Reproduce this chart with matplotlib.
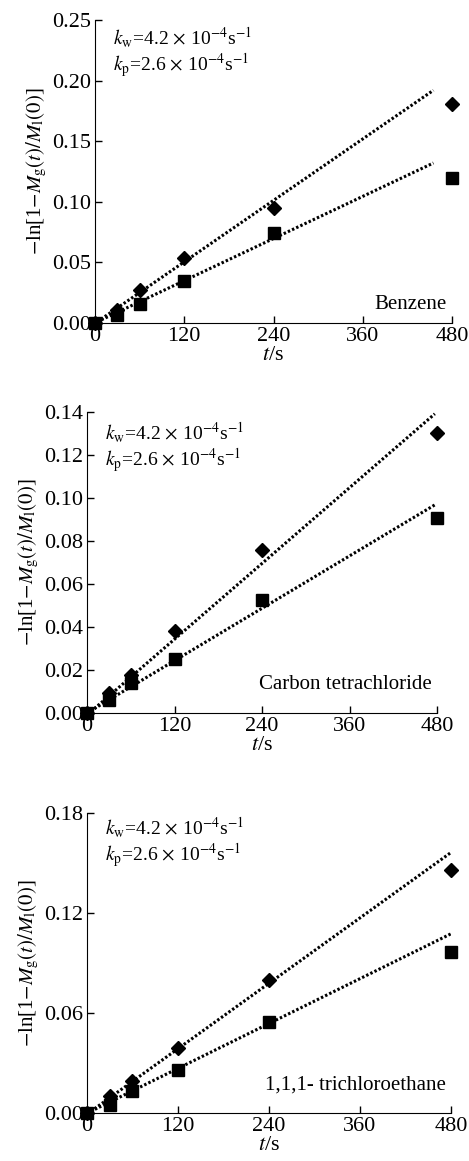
import matplotlib
matplotlib.use("Agg")
import matplotlib.pyplot as plt

plt.rcParams['font.family'] = ['Liberation Serif', 'DejaVu Serif']
plt.rcParams['mathtext.fontset'] = 'stix'

# sampling times (s)
t = [0, 30, 60, 120, 240, 480]

# Benzene
benz_w = [0.0, 0.011, 0.027, 0.054, 0.095, 0.181]
benz_p = [0.0, 0.007, 0.016, 0.035, 0.074, 0.120]
# Carbon tetrachloride
ccl4_w = [0.0, 0.0093, 0.0178, 0.038, 0.0758, 0.130]
ccl4_p = [0.0, 0.006, 0.0139, 0.025, 0.0526, 0.0905]
# 1,1,1-trichloroethane
tca_w = [0.0, 0.0104, 0.019, 0.039, 0.080, 0.1456]
tca_p = [0.0, 0.005, 0.013, 0.026, 0.0546, 0.0964]

# fitted lines, start/end points
benz_fit_t = [3, 455]
benz_fit_w = [0.001, 0.192]
benz_fit_p = [0.001, 0.132]
ccl4_fit_t = [10, 477]
ccl4_fit_w = [0.002, 0.139]
ccl4_fit_p = [0.002, 0.0967]
tca_fit_t = [5, 482]
tca_fit_w = [0.001, 0.157]
tca_fit_p = [0.001, 0.108]

names = ["Benzene", "Carbon tetrachloride", "1,1,1- trichloroethane"]
yticks = [[0, 0.05, 0.10, 0.15, 0.20, 0.25],
          [0, 0.02, 0.04, 0.06, 0.08, 0.10, 0.12, 0.14],
          [0, 0.06, 0.12, 0.18]]
xticks = [0, 120, 240, 360, 480]

panels = [(benz_w, benz_p, benz_fit_t, benz_fit_w, benz_fit_p),
          (ccl4_w, ccl4_p, ccl4_fit_t, ccl4_fit_w, ccl4_fit_p),
          (tca_w, tca_p, tca_fit_t, tca_fit_w, tca_fit_p)]

# axes boxes [left, bottom, width, height]
boxes = [[0.2026, 0.7218, 0.7612, 0.2610],
         [0.1855, 0.3859, 0.7463, 0.2595],
         [0.1855, 0.0413, 0.7761, 0.2584]]
# annotation vertical positions (axes fraction) for k_w and k_p lines
ann_y = [(0.94, 0.85), (0.93, 0.84), (0.95, 0.86)]
name_y = [0.06, 0.093, 0.093]

fig = plt.figure(figsize=(4.69, 11.61), dpi=100)

for i in range(3):
    yw, yp, ft, fw, fp = panels[i]
    ax = fig.add_axes(boxes[i])
    for fy in (fw, fp):
        ax.plot(ft, fy, color='black', lw=2.2, linestyle=(0, (0.8, 0.7)))
    ax.plot(t, yw, 'D', color='black', ms=7.5, clip_on=False, zorder=5)
    ax.plot(t, yp, 's', color='black', ms=9, clip_on=False, zorder=5)
    ax.set_xlim(0, 480)
    ax.set_ylim(0, yticks[i][-1])
    ax.set_xticks(xticks)
    ax.set_yticks(yticks[i])
    ax.set_yticklabels(["%.2f" % v for v in yticks[i]])
    ax.spines['top'].set_visible(False)
    ax.spines['right'].set_visible(False)
    ax.tick_params(direction='in', length=5, width=1, labelsize=16, pad=3)
    ax.set_xlabel(r'$t$/s', fontsize=16, labelpad=0)
    ax.set_ylabel(r'$-$ln[1$-$$M_{\rm g}(t)/M_{\rm l}(0)$]', fontsize=15, labelpad=2)
    ax.text(0.05, ann_y[i][0], r'$k_{\rm w}$=4.2$\,\times\,$10$^{-4}$s$^{-1}$',
            transform=ax.transAxes, fontsize=14, va='center', ha='left')
    ax.text(0.05, ann_y[i][1], r'$k_{\rm p}$=2.6$\,\times\,$10$^{-4}$s$^{-1}$',
            transform=ax.transAxes, fontsize=14, va='center', ha='left')
    ax.text(0.985, name_y[i], names[i], transform=ax.transAxes, fontsize=15,
            va='center', ha='right')

plt.savefig('out.png', dpi=100)
